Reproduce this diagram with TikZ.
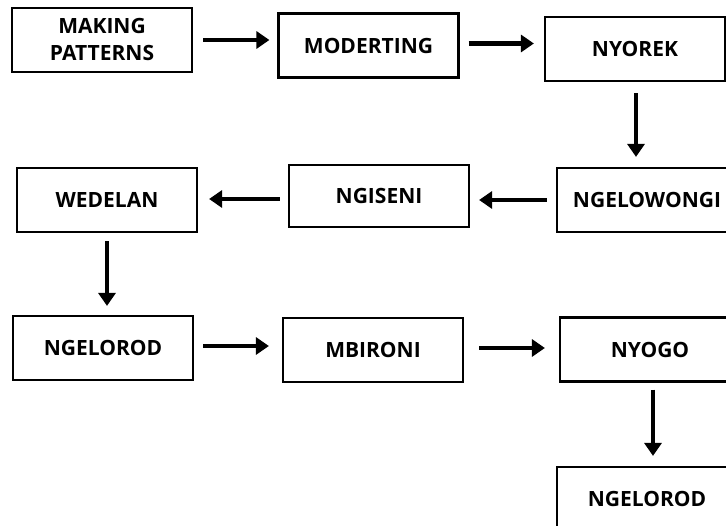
\documentclass[tikz,border=0pt]{standalone}
\usepackage{fontspec}
\setmainfont{Open Sans}
\usetikzlibrary{arrows.meta}

\begin{document}
\begin{tikzpicture}[x=1pt, y=-1pt, font=\fontsize{21}{27}\selectfont\bfseries,
	stage/.style={draw, line width=2.2pt, minimum width=180pt, minimum height=64pt, align=center, inner sep=0pt},
	flow/.style={line width=4.5pt, -{Triangle[length=13pt, width=17pt]}}]
	\useasboundingbox (0,0) rectangle (726,526);
	\clip (0,0) rectangle (726,526);
	\node[stage] (pattern) at (102,40) {MAKING\\PATTERNS};
	\node[stage] (modert) at (368.5,45.5) {MODERTING};
	\node[stage] (nyorek) at (635,49) {NYOREK};
	\node[stage] (ngelow) at (647,200) {NGELOWONGI};
	\node[stage, minimum height=62pt] (ngisen) at (379,196) {NGISENI};
	\node[stage] (wedel) at (107,200) {WEDELAN};
	\node[stage] (ngelorA) at (103,348) {NGELOROD};
	\node[stage] (mbiron) at (373,350) {MBIRONI};
	\node[stage] (nyogo) at (650,349.5) {NYOGO};
	\node[stage] (ngelorB) at (647,499) {NGELOROD};
	\draw[flow, shorten <=10pt, shorten >=8pt] (pattern.east) -- (pattern.east -| modert.west);
	\draw[flow, shorten <=9pt, shorten >=10pt] ([yshift=2pt]modert.east) -- ([yshift=2pt]modert.east -| nyorek.west);
	\draw[flow, shorten <=11pt, shorten >=10pt] ([xshift=1pt]nyorek.south) -- ([xshift=1pt]nyorek.south |- ngelow.north);
	\draw[flow, shorten <=9pt, shorten >=9pt] (ngelow.west) -- (ngelow.west -| ngisen.east);
	\draw[flow, shorten <=8pt, shorten >=11pt] ([yshift=-3pt]ngisen.west) -- ([yshift=-3pt]ngisen.west -| wedel.east);
	\draw[flow, shorten <=8pt, shorten >=9pt] (wedel.south) -- (wedel.south |- ngelorA.north);
	\draw[flow, shorten <=9pt, shorten >=13pt] ([yshift=2pt]ngelorA.east) -- ([yshift=2pt]ngelorA.east -| mbiron.west);
	\draw[flow, shorten <=15pt, shorten >=14pt] ([yshift=2pt]mbiron.east) -- ([yshift=2pt]mbiron.east -| nyogo.west);
	\draw[flow, shorten <=7pt, shorten >=10pt] ([xshift=3pt]nyogo.south) -- ([xshift=3pt]nyogo.south |- ngelorB.north);
\end{tikzpicture}
\end{document}
